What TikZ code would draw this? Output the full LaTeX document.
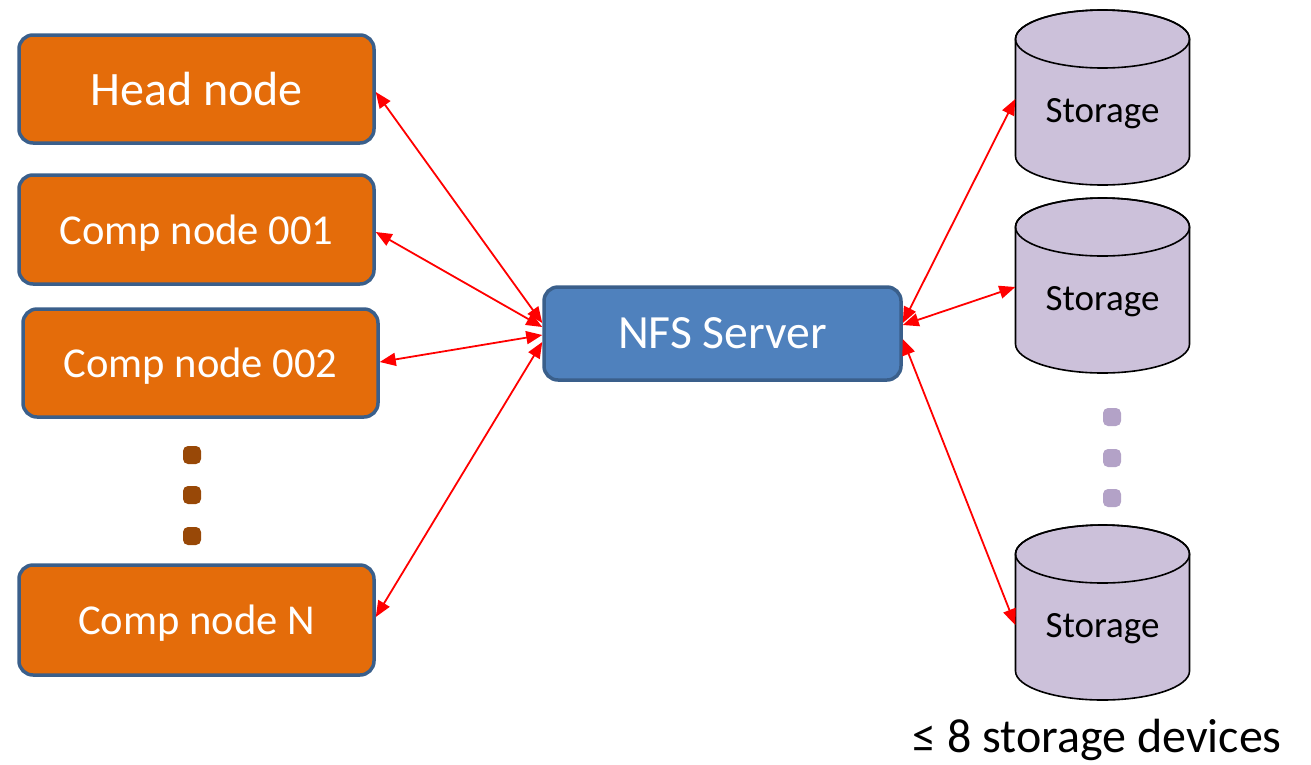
\documentclass[tikz,border=0pt]{standalone}
\usepackage{fontspec}
\setmainfont{Carlito}
\usetikzlibrary{arrows.meta}
\definecolor{orangefill}{HTML}{E46C0A}
\definecolor{boxborder}{HTML}{3A5F8B}
\definecolor{nfsfill}{HTML}{4F81BD}
\definecolor{cylfill}{HTML}{CCC1DA}
\definecolor{lavdot}{HTML}{B3A2C7}
\definecolor{browndot}{HTML}{984807}
\newcommand\storagecyl[3]{%
  \path[cylshape] (#2-87,#3) -- (#2-87,#3+117)
    arc[start angle=180,end angle=360,x radius=87pt,y radius=29pt]
    -- (#2+87,#3)
    arc[start angle=0,end angle=180,x radius=87pt,y radius=29pt] -- cycle;
  \draw[cylline] (#2,#3) ellipse[x radius=87pt,y radius=29pt];
  \node[stortext] (#1) at (#2,#3+71) {Storage};
}
\begin{document}
\begin{tikzpicture}[x=1pt,y=-1pt,
  box/.style={rounded corners=14pt, draw=boxborder, line width=3.5pt,
    fill=orangefill, text=white, minimum width=355pt, minimum height=108pt,
    inner sep=0pt, text depth=0pt, font=\fontsize{42.6}{51}\selectfont},
  headbox/.style={box, font=\fontsize{48}{57}\selectfont},
  nfsbox/.style={box, fill=nfsfill, minimum width=357pt, minimum height=93pt,
    font=\fontsize{47.7}{57}\selectfont},
  cylshape/.style={fill=cylfill, draw=black, line width=1.6pt},
  cylline/.style={draw=black, line width=1.6pt},
  stortext/.style={minimum width=174pt, inner sep=0pt, text=black,
    text depth=0pt, font=\fontsize{37}{44}\selectfont},
  link/.style={red, line width=1.8pt,
    {Triangle[length=16pt,width=13pt]}-{Triangle[length=16pt,width=13pt]}},
  dotbox/.style={rectangle, rounded corners=5pt, minimum size=18pt,
    inner sep=0pt, draw=none},
  browndotbox/.style={dotbox, fill=browndot},
  lavdotbox/.style={dotbox, fill=lavdot},
  caption/.style={inner sep=0pt, font=\fontsize{48}{57}\selectfont}
]
\useasboundingbox (0,0) rectangle (1311,764);

% left boxes
\node[headbox] (head) at (196.5,89) {Head node};
\node[box, minimum height=109pt] (c1) at (196.5,229.5) {Comp node 001};
\node[box] (c2) at (200.5,363) {Comp node 002};
\node[box, minimum height=110pt] (cn) at (196.5,620) {Comp node N};

% dots
\node[browndotbox] (bd1) at (192,455) {};
\node[browndotbox] (bd2) at (192,495) {};
\node[browndotbox] (bd3) at (192,536) {};

% NFS server
\node[nfsbox] (nfs) at (722.5,333.5) {NFS Server};

% storage cylinders
\storagecyl{s1}{1102.5}{39}
\storagecyl{s2}{1102.5}{227}
\storagecyl{s3}{1102.5}{554}

\node[lavdotbox] (ld1) at (1112,417) {};
\node[lavdotbox] (ld2) at (1112,458) {};
\node[lavdotbox] (ld3) at (1112,498) {};

\node[caption] (cap) at (1097,740) {≤ 8 storage devices};

% connectors
\draw[link] ([yshift=10.5pt]nfs.west) -- ([yshift=-3pt]head.east);
\draw[link] ([yshift=6.5pt]nfs.west) -- ([yshift=-2.5pt]c1.east);
\draw[link] ([yshift=-1.5pt]nfs.west) -- ([yshift=1pt]c2.east);
\draw[link] ([yshift=-8.5pt]nfs.west) -- ([yshift=3pt]cn.east);

\draw[link] ([yshift=10.5pt]nfs.east) -- ([yshift=11pt]s1.west);
\draw[link] ([yshift=8.5pt]nfs.east) -- ([yshift=11pt]s2.west);
\draw[link] ([yshift=-5.5pt]nfs.east) -- ([yshift=0pt]s3.west);
\end{tikzpicture}
\end{document}
